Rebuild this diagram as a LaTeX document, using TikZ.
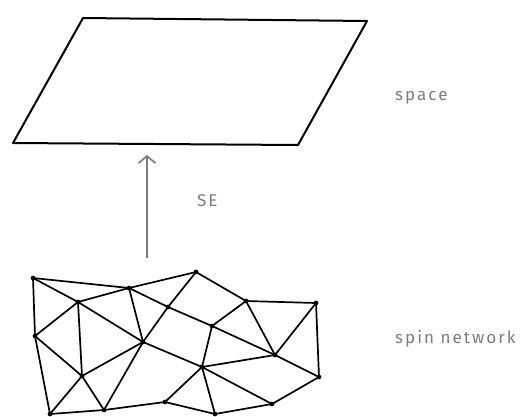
\documentclass[tikz,border=0pt]{standalone}
\usepackage{fontspec}
\setmainfont[LetterSpace=12]{Fira Sans}
\usetikzlibrary{arrows.meta,backgrounds}
\pgfdeclarelayer{edgelayer}
\pgfdeclarelayer{nodelayer}
\pgfsetlayers{edgelayer,nodelayer,main}
\definecolor{labelgray}{HTML}{7C7C7C}
\tikzstyle{none}=[inner sep=0pt]
\tikzstyle{circ}=[circle,fill=black,draw,inner sep=1.5pt]
\tikzstyle{caption}=[anchor=base west,inner sep=0pt,text=labelgray,font=\fontsize{17}{20}\selectfont]
\tikzstyle{edge}=[line width=1.7pt]
\tikzstyle{plane}=[line width=2pt,line join=round]

\begin{document}
\begin{tikzpicture}[x=1pt,y=-1pt]
	\useasboundingbox (0,0) rectangle (521,416);
	\begin{pgfonlayer}{nodelayer}
		% space
		\node [style=none] (p0) at (83, 18) {};
		\node [style=none] (p1) at (367, 21) {};
		\node [style=none] (p2) at (298, 145) {};
		\node [style=none] (p3) at (13, 143) {};
		% spin network
		\node [style=circ] (0) at (33, 278) {};
		\node [style=circ] (1) at (129, 288) {};
		\node [style=circ] (2) at (196, 272) {};
		\node [style=circ] (3) at (78, 302) {};
		\node [style=circ] (4) at (168, 307) {};
		\node [style=circ] (5) at (246, 301) {};
		\node [style=circ] (6) at (316, 303) {};
		\node [style=circ] (7) at (35, 336) {};
		\node [style=circ] (8) at (143, 342) {};
		\node [style=circ] (9) at (212, 326) {};
		\node [style=circ] (10) at (275, 355) {};
		\node [style=circ] (11) at (202, 367) {};
		\node [style=circ] (12) at (82, 376) {};
		\node [style=circ] (13) at (319, 377) {};
		\node [style=circ] (14) at (50, 414) {};
		\node [style=circ] (15) at (104, 410) {};
		\node [style=circ] (16) at (165, 402) {};
		\node [style=circ] (17) at (215, 414) {};
		\node [style=circ] (18) at (272, 404) {};
		% arrow
		\node [style=none] (a0) at (147, 258) {};
		\node [style=none] (a1) at (147, 155) {};
		% labels
		\node [style=caption] (space) at (395, 100.7) {space};
		\node [style=caption] (se) at (197, 206) {SE};
		\node [style=caption] (spin) at (395, 343.3) {spin network};
	\end{pgfonlayer}
	\begin{pgfonlayer}{edgelayer}
		\draw [style=plane] (p0.center) -- (p1.center) -- (p2.center) -- (p3.center) -- cycle;
		\draw [line width=1.7pt, labelgray, -{Straight Barb[length=7pt,width=17pt,line width=1.7pt]}] (a0.center) to (a1.center);
		\foreach \i/\j in {0/1,0/3,0/7,1/2,1/3,1/8,1/4,2/4,2/5,3/7,3/8,3/12,4/8,4/9,9/10,
			5/9,5/6,5/10,6/10,6/13,7/12,7/14,8/12,8/15,8/11,9/11,10/11,10/13,
			11/16,11/17,11/18,12/14,12/15,13/18,14/15,15/16,16/17,17/18}
			\draw [style=edge] (\i.center) to (\j.center);
	\end{pgfonlayer}
\end{tikzpicture}
\end{document}
